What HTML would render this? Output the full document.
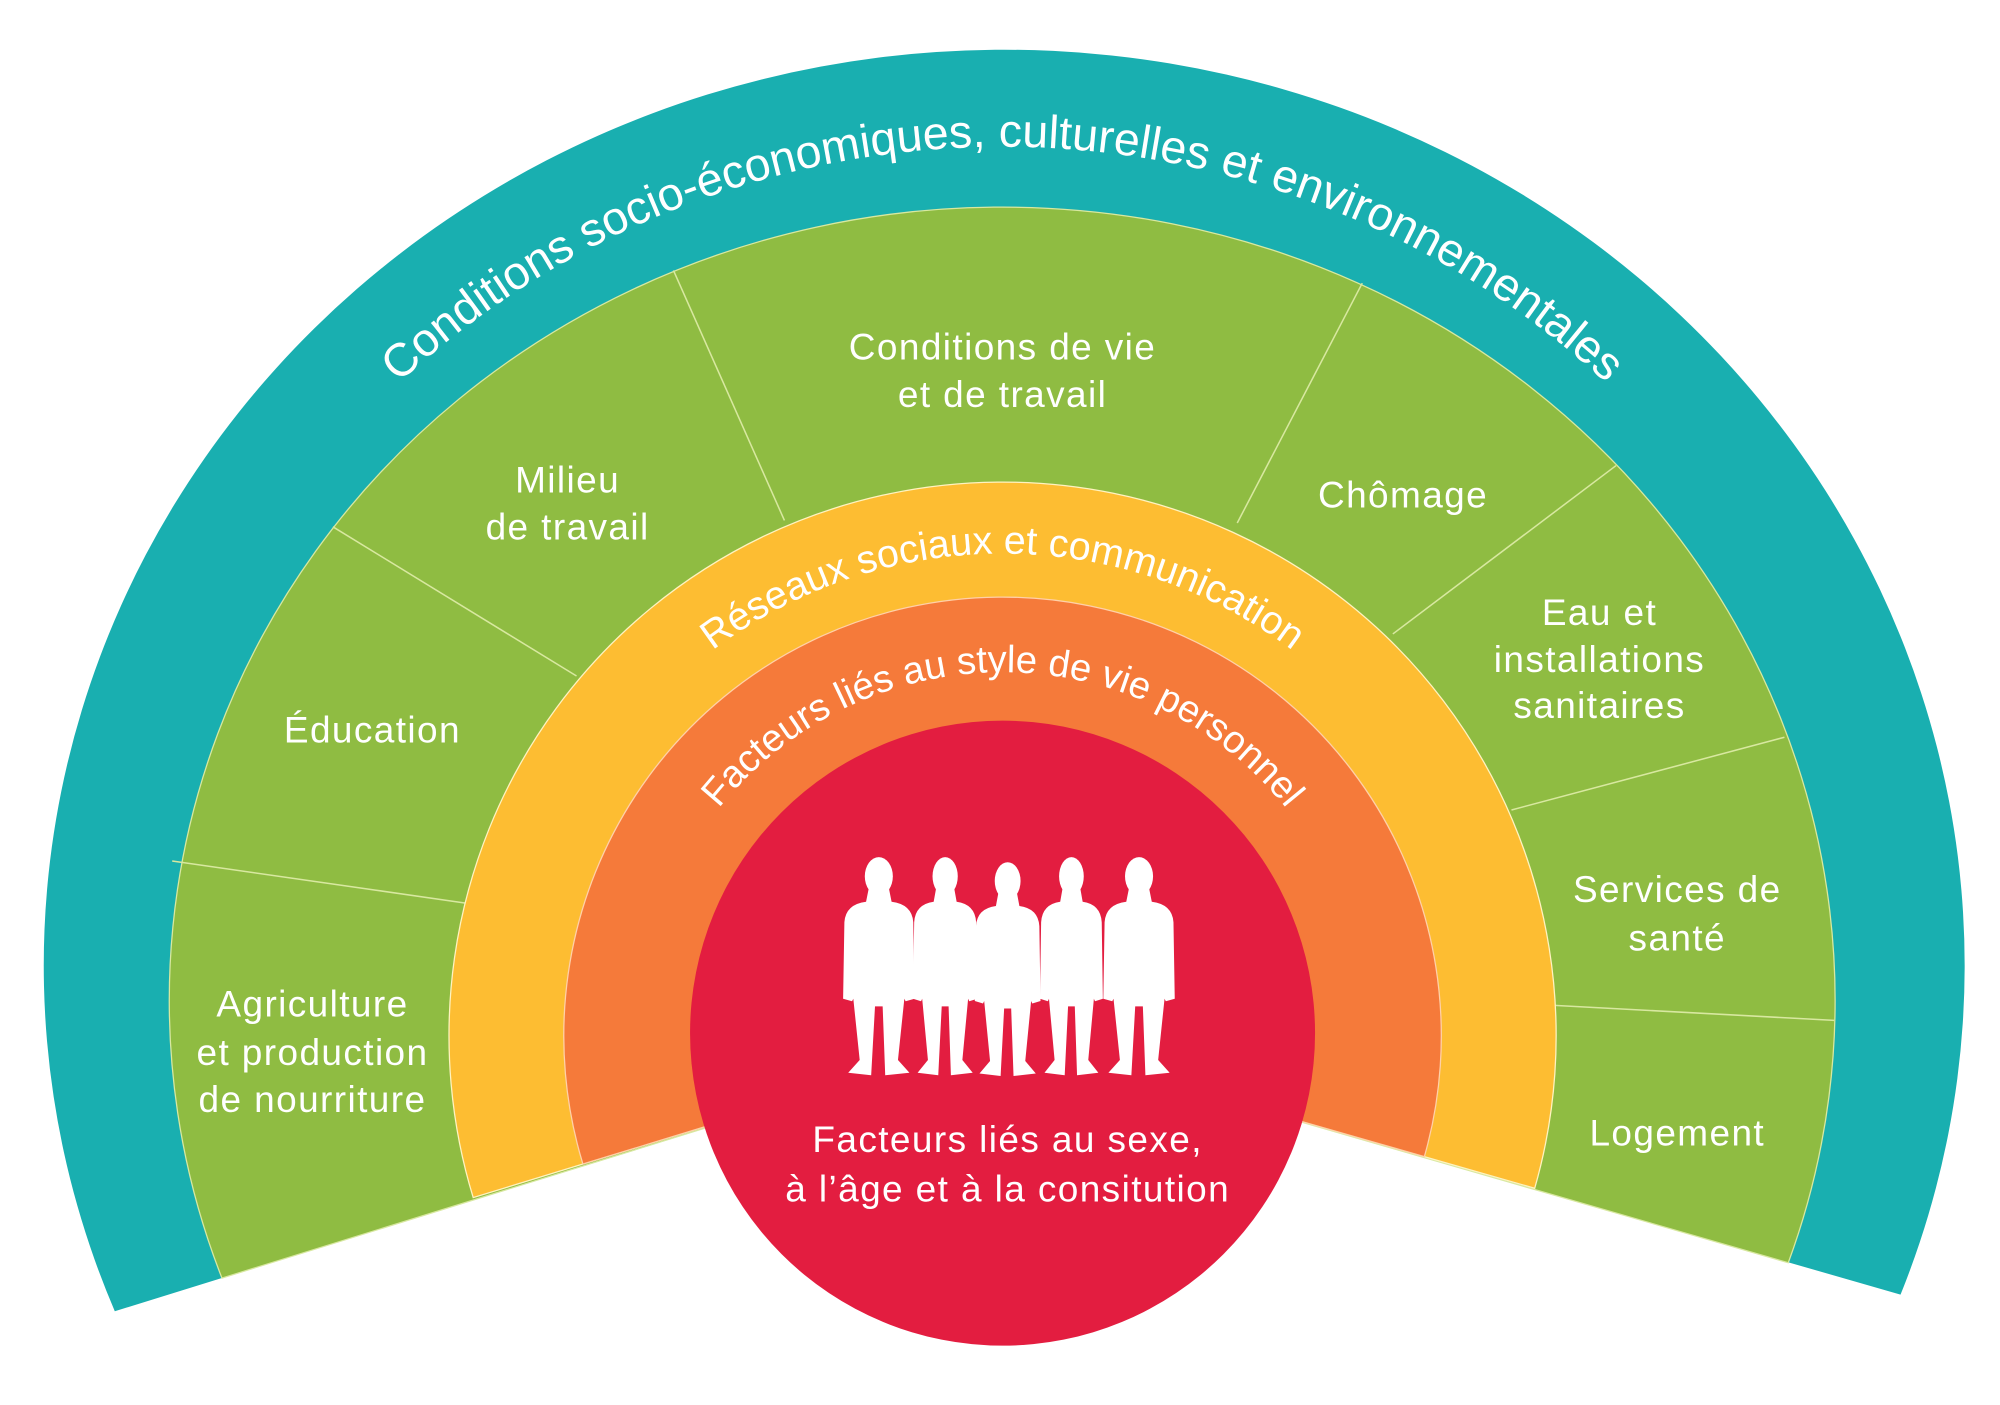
<!DOCTYPE html>
<html><head><meta charset="utf-8"><style>
html,body{margin:0;padding:0;background:#fff;}
svg{display:block;}
text{font-family:"Liberation Sans",sans-serif;fill:#fff;}
</style></head><body>
<svg width="2000" height="1405" viewBox="0 0 1568 1101.5" xmlns="http://www.w3.org/2000/svg">
<defs>
<path id="tp1" d="M89,812 A697,697 0 0 1 1483,812"/>
<path id="tp2" d="M408,812 A378,378 0 0 1 1164,812"/>
<path id="tp3" d="M501,812 A285,285 0 0 1 1071,812"/>
<g id="fig">
<ellipse cx="0" cy="16" rx="11" ry="15"/>
<path d="M-8,26 L8,26 L10,36 Q26,38 27,52 L28,112 L21,114 L20,112 L15,160 L24,170 L5,172 L3,118 L-3,118 L-6,172 L-24,170 L-15,160 L-20,112 L-21,114 L-28,112 L-27,52 Q-26,38 -10,36 Z"/>
</g>
</defs>
<!-- teal -->
<path d="M786,812 L90,1028 A753,718 0 1 1 1490,1015 Z" fill="#19afb0"/>
<!-- green -->
<path d="M786,812 L174,1002 A653,622 0 1 1 1402,990 Z" fill="#8fbc42" stroke="#d8e8a0" stroke-width="1"/>
<!-- dividers -->
<g stroke="#d8e8a0" stroke-width="1.2">
<line x1="135" y1="675" x2="365" y2="708"/>
<line x1="261" y1="413" x2="452" y2="530"/>
<line x1="528" y1="212" x2="615" y2="408"/>
<line x1="1068" y1="222" x2="970" y2="410"/>
<line x1="1267" y1="365" x2="1092" y2="497"/>
<line x1="1399" y1="578" x2="1185" y2="635"/>
<line x1="1438" y1="800" x2="1215" y2="788"/>
</g>
<!-- yellow -->
<path d="M786,812 L371,938.9 A434,434 0 1 1 1203.2,931.6 Z" fill="#fdbd32" stroke="#fff3c0" stroke-width="1"/>
<!-- orange -->
<path d="M786,812 L457,912.6 A344,344 0 1 1 1116.7,906.8 Z" fill="#f57a3a" stroke="#ffd0a8" stroke-width="1"/>
<!-- red -->
<circle cx="786" cy="810" r="245" fill="#e31d40"/>

<text font-size="36.5"><textPath href="#tp1" startOffset="50%" text-anchor="middle">Conditions socio-économiques, culturelles et environnementales</textPath></text>
<text font-size="31"><textPath href="#tp2" startOffset="50%" text-anchor="middle">Réseaux sociaux et communication</textPath></text>
<text font-size="30"><textPath href="#tp3" startOffset="50%" text-anchor="middle">Facteurs liés au style de vie personnel</textPath></text>

<g font-size="29" text-anchor="middle" letter-spacing="1.1">
<text x="786" y="282">Conditions de vie</text>
<text x="786" y="319">et de travail</text>
<text x="445" y="386">Milieu</text>
<text x="445" y="423">de travail</text>
<text x="292" y="582">Éducation</text>
<text x="245" y="797">Agriculture</text>
<text x="245" y="835">et production</text>
<text x="245" y="872">de nourriture</text>
<text x="1100" y="398">Chômage</text>
<text x="1254" y="490">Eau et</text>
<text x="1254" y="527">installations</text>
<text x="1254" y="563">sanitaires</text>
<text x="1315" y="707">Services de</text>
<text x="1315" y="745">santé</text>
<text x="1315" y="898">Logement</text>
<text x="790" y="903">Facteurs liés au sexe,</text>
<text x="790" y="942">à l’âge et à la consitution</text>
</g>

<g fill="#fff">
<use href="#fig" transform="translate(689,671)"/>
<use href="#fig" transform="translate(741,671) scale(0.9,1)"/>
<use href="#fig" transform="translate(790,675) scale(0.92,0.98)"/>
<use href="#fig" transform="translate(840,671) scale(0.88,1)"/>
<use href="#fig" transform="translate(893,671)"/>
</g>
</svg>
</body></html>
